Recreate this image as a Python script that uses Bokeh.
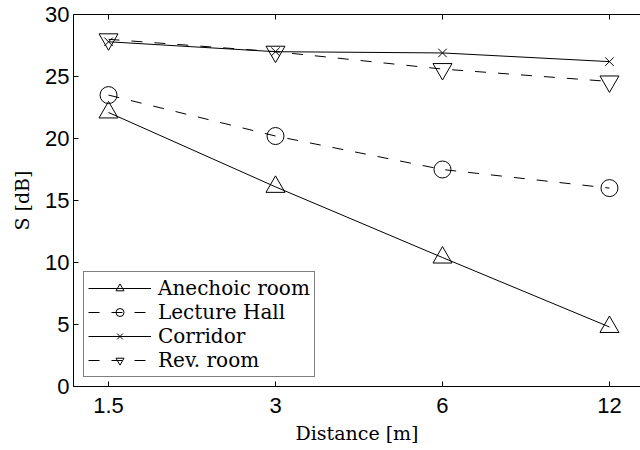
from bokeh.plotting import figure
from bokeh.models import (Legend, LegendItem, LogAxis, FixedTicker,
                          CustomJSTickFormatter, Range1d)
from bokeh.embed import file_html
from bokeh.resources import INLINE

# ---- data ----
distances = [1.5, 3, 6, 12]
x_tick_labels = ["1.5", "3", "6", "12"]
y_ticks = [0, 5, 10, 15, 20, 25, 30]
anechoic = [22.1, 16.1, 10.4, 4.8]
lecture = [23.5, 20.2, 17.5, 16.0]
corridor = [27.8, 27.0, 26.9, 26.2]
rev_room = [28.0, 27.0, 25.6, 24.6]
series_names = ["Anechoic room", "Lecture Hall", "Corridor", "Rev. room"]
x_label = "Distance [m]"
y_label = "S [dB]"

SANS = "Liberation Sans"
SERIF = "DejaVu Serif"

X_LO, X_HI = 1.297, 13.65
FRAME_W, FRAME_H = 567, 372

p = figure(frame_width=FRAME_W, frame_height=FRAME_H, x_axis_type="log",
           x_range=Range1d(X_LO, X_HI), y_range=Range1d(0, 30),
           output_backend="svg", toolbar_location=None,
           min_border_left=73, min_border_top=14, min_border_right=0,
           min_border_bottom=64)
p.grid.visible = False
p.outline_line_color = None
p.background_fill_color = "white"
p.border_fill_color = "white"

xa = p.xaxis[0]
ya = p.yaxis[0]
xa.ticker = FixedTicker(ticks=distances)
xa.major_label_overrides = {d: l for d, l in zip(distances, x_tick_labels)}
ya.ticker = FixedTicker(ticks=y_ticks)
for ax in (xa, ya):
    ax.major_tick_in = 5
    ax.major_tick_out = 0
    ax.minor_tick_line_color = None
    ax.axis_line_color = "black"
    ax.major_tick_line_color = "black"
    ax.major_label_text_font = SANS
    ax.major_label_text_font_size = "22px"
    ax.major_label_text_color = "black"
    ax.axis_label_text_font = SERIF
    ax.axis_label_text_font_style = "normal"
    ax.axis_label_text_font_size = "19px"
    ax.axis_label_text_color = "black"
xa.major_label_standoff = 11
ya.major_label_standoff = 4
xa.axis_label = x_label
xa.axis_label_standoff = 6
ya.axis_label = y_label
ya.axis_label_standoff = 9

blank = CustomJSTickFormatter(code="return ''")
top = LogAxis(ticker=FixedTicker(ticks=distances), formatter=blank,
              major_tick_in=5, major_tick_out=0, minor_tick_line_color=None,
              major_label_text_font_size="0px", major_label_standoff=0,
              axis_line_color="black")
p.add_layout(top, "above")

series = [
    (anechoic, "triangle", "solid", 19),
    (lecture, "circle", "11 12", 17),
    (corridor, "x", "solid", 12),
    (rev_room, "inverted_triangle", "11 12", 19),
]
items = []
for (vals, marker, dash, size), name in zip(series, series_names):
    lr = p.line(distances, vals, line_color="black", line_width=1, line_dash=dash)
    sr = p.scatter(distances, vals, marker=marker, size=size, fill_color=None,
                   line_color="black", line_width=1)
    items.append(LegendItem(label=name, renderers=[lr, sr]))

legend = Legend(items=items, location=(10, 9),
                border_line_color="black", border_line_width=1,
                background_fill_color="white", background_fill_alpha=1,
                label_text_font=SERIF, label_text_font_size="20px",
                label_text_color="black",
                glyph_width=63, glyph_height=20, label_height=20,
                spacing=0, padding=4, margin=0, label_standoff=7)
p.add_layout(legend)

open("out.html", "w").write(file_html(p, INLINE))
